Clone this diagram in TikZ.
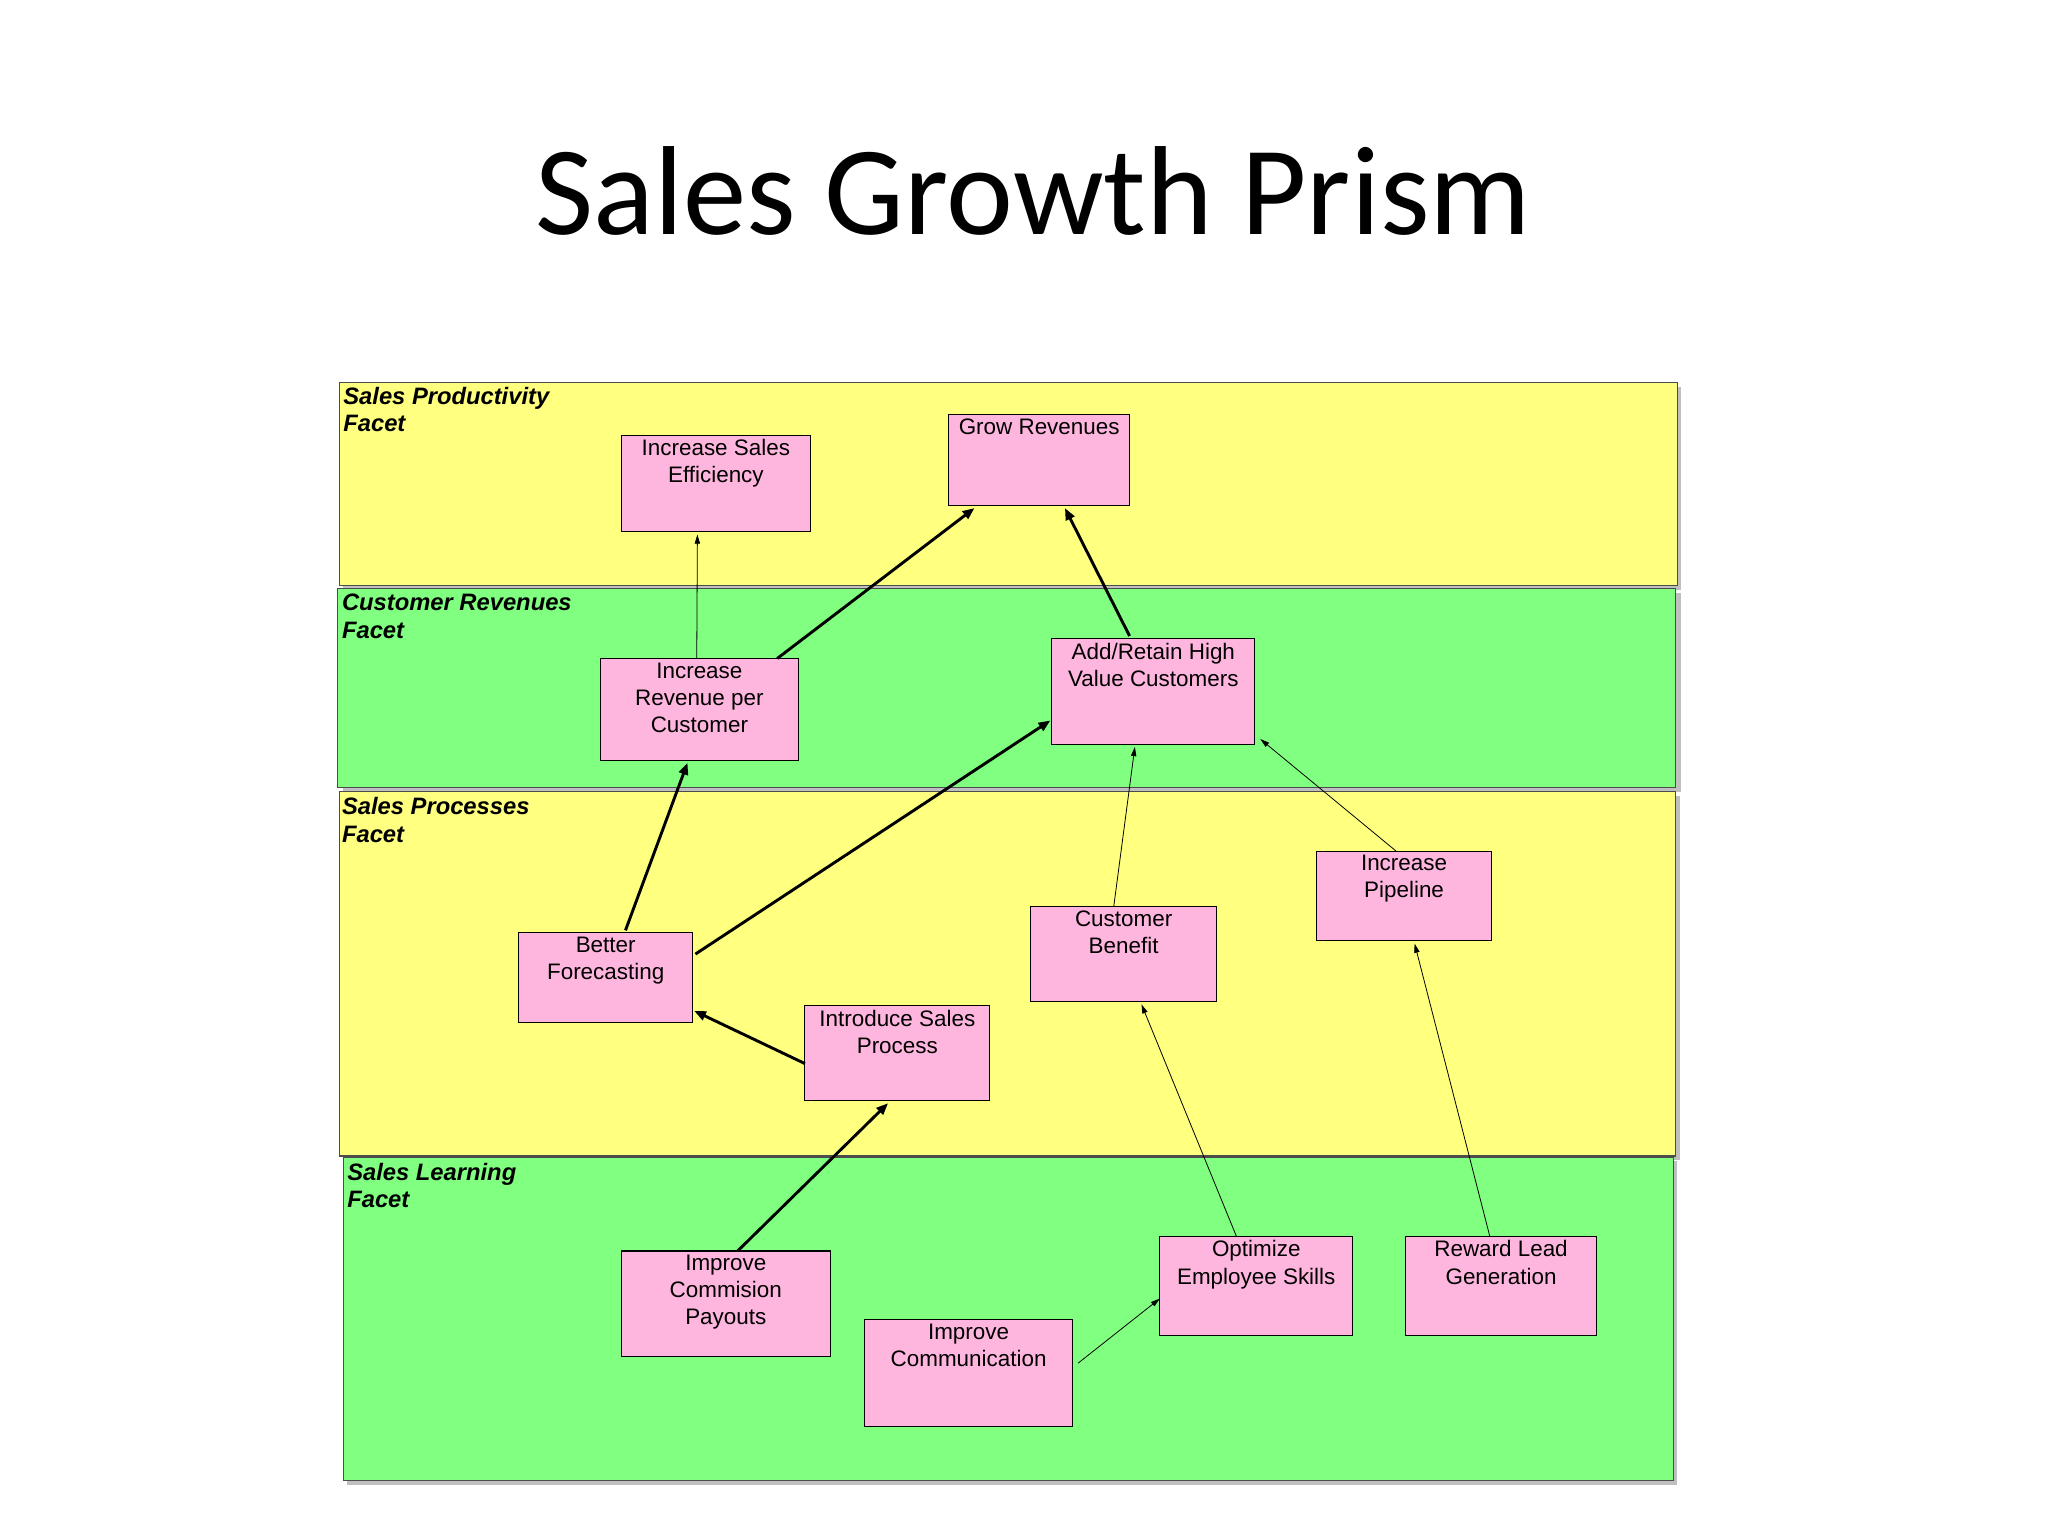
\documentclass[tikz,border=0pt]{standalone}
\usepackage{fontspec}
\setmainfont{Liberation Sans}
\newfontfamily\titlefont{Carlito}
\usetikzlibrary{shapes.misc,arrows.meta,calc}
\definecolor{byel}{HTML}{FFFF80}
\definecolor{bgrn}{HTML}{80FF80}
\definecolor{bpink}{HTML}{FFB6DE}
\tikzset{
 band/.style={draw=black!70,line width=0.8pt},
 goal/.style={draw=black,line width=0.8pt,fill=bpink,chamfered rectangle,chamfered rectangle xsep=2pt,chamfered rectangle ysep=2pt,chamfered rectangle angle=45,inner sep=0pt,outer sep=0pt},
 thick arr/.style={line width=2.2pt,-{Triangle[length=9pt,width=7pt]}},
 thin arr/.style={line width=0.6pt,-{Triangle[length=7pt,width=4pt]}},
 facet/.style={anchor=north west,align=left,font=\fontsize{18}{21}\selectfont\bfseries\itshape,inner sep=0pt}
}
\newcommand{\gbox}[6]{% name, x1,y1,x2,y2,text
 \node[goal,minimum width=#4pt-#2pt,minimum height=#5pt-#3pt,chamfered rectangle xsep=0pt] (#1) at ({(#2+#4)/2},{(#3+#5)/2}) {};
 \node[anchor=north,align=center,inner sep=0pt,font=\fontsize{17}{20.5}\selectfont] (#1t) at ([yshift=-3pt]#1.north) {#6};}
\begin{document}
\begin{tikzpicture}[x=1pt,y=-1pt]
\useasboundingbox[fill=white] (0,0) rectangle (1552,1164);
\node[font=\titlefont\fontsize{96}{100}\selectfont,anchor=base] (title) at (783,178) {Sales Growth Prism};
% bands with shadow
\fill[black!25] (260,293) rectangle (1274,447);
\fill[black!25] (260,449) rectangle (1274,600);
\fill[black!25] (260,603) rectangle (1273,879);
\fill[black!25] (263,880) rectangle (1271,1125);
\draw[band,fill=byel] (257,290) rectangle (1271,444);
\draw[band,fill=bgrn] (256,446) rectangle (1270,597);
\draw[band,fill=byel] (257,600) rectangle (1270,876);
\draw[band,fill=bgrn] (260,877) rectangle (1268,1122);
\node[facet] (f1) at (260,293) {Sales Productivity\\Facet};
\node[facet] (f2) at (259,450) {Customer Revenues\\Facet};
\node[facet] (f3) at (259,604) {Sales Processes\\Facet};
\node[facet] (f4) at (263,881) {Sales Learning\\Facet};
\gbox{ise}{471}{330}{614}{403}{Increase Sales\\Efficiency}
\gbox{gr}{719}{314}{856}{383}{Grow Revenues}
\gbox{irc}{455}{499}{605}{576}{Increase\\Revenue per\\Customer}
\gbox{arh}{797}{484}{951}{564}{Add/Retain High\\Value Customers}
\gbox{ip}{998}{645}{1130}{713}{Increase\\Pipeline}
\gbox{cb}{781}{687}{922}{759}{Customer\\Benefit}
\gbox{bf}{393}{707}{525}{775}{Better\\Forecasting}
\gbox{isp}{610}{762}{750}{834}{Introduce Sales\\Process}
\gbox{icp}{471}{948}{629}{1028}{Improve\\Commision\\Payouts}
\gbox{ic}{655}{1000}{813}{1081}{Improve\\Communication}
\gbox{oes}{879}{937}{1025}{1012}{Optimize\\Employee Skills}
\gbox{rlg}{1065}{937}{1210}{1012}{Reward Lead\\Generation}
% connectors
\draw[thin arr] ([xshift=-2pt]irc.north) -- ([xshift=-14pt,yshift=-2pt]ise.south);
\draw[thick arr] ([xshift=59pt]irc.north) -- ([xshift=-49pt,yshift=-2pt]gr.south);
\draw[thick arr] ([xshift=-18pt,yshift=2pt]arh.north) -- ([xshift=19.5pt,yshift=-2pt]gr.south);
\draw[thick arr] ([xshift=15pt,yshift=2pt]bf.north) -- ([xshift=-9pt,yshift=-2pt]irc.south);
\draw[thick arr] ([xshift=2pt,yshift=18pt]bf.east) -- ([xshift=-1pt,yshift=-22pt]arh.west);
\draw[thick arr] ([yshift=-8pt]isp.west) -- ([xshift=1pt,yshift=-25pt]bf.east);
\draw[thick arr] ([xshift=9pt]icp.north) -- ([xshift=-7pt,yshift=-2pt]isp.south);
\draw[thin arr] ([xshift=-7.5pt]cb.north) -- ([xshift=-14pt,yshift=-2pt]arh.south);
\draw[thin arr] ([xshift=-6pt]ip.north) -- ([xshift=4pt,yshift=-36pt]arh.east);
\draw[thin arr] ([xshift=-15pt]oes.north) -- ([xshift=13.5pt,yshift=-2pt]cb.south);
\draw[thin arr] ([xshift=-8.5pt]rlg.north) -- ([xshift=8pt,yshift=-2pt]ip.south);
\draw[thin arr] ([xshift=4pt,yshift=7.5pt]ic.east) -- ([yshift=-9.5pt]oes.west);
\end{tikzpicture}
\end{document}
